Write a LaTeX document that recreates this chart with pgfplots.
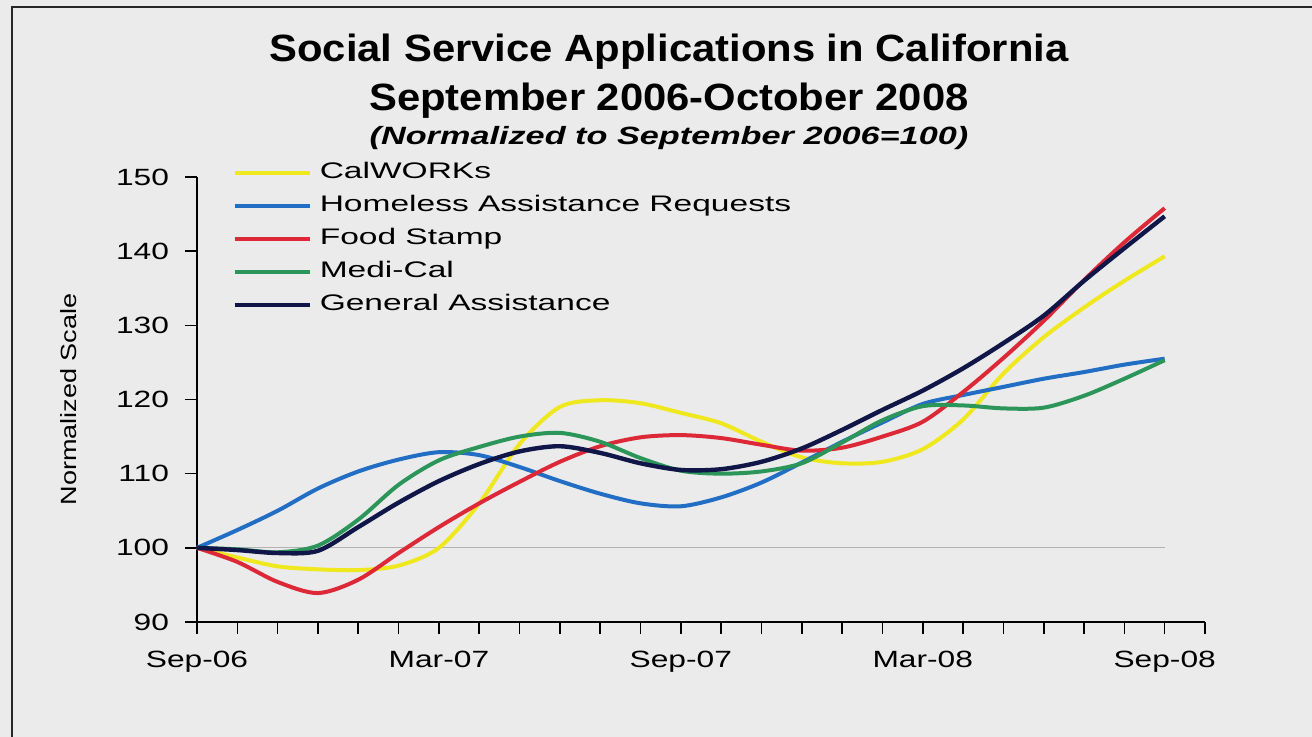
\documentclass[border=0pt]{standalone}
\usepackage{fontspec}
\setmainfont{Liberation Sans}
\usepackage{graphicx}
\usepackage{pgfplots}
\pgfplotsset{compat=1.18}

\definecolor{bgc}{RGB}{235,235,235}
\definecolor{cyel}{RGB}{240,232,30}
\definecolor{cblu}{RGB}{34,110,196}
\definecolor{cred}{RGB}{220,40,55}
\definecolor{cgrn}{RGB}{44,150,90}
\definecolor{cnav}{RGB}{16,22,72}

% the scanned chart has its text stretched sideways
\newcommand\sx[1]{\scalebox{1.35}[1]{#1}}
\newcommand\lx[1]{\scalebox{1.49}[1]{#1}}

% months since Sep-06 (0) to Sep-08 (24), normalized to Sep-06 = 100
\pgfplotstableread{
m   calworks homeless food  medical general
0   100.0    100.0    100.0 100.0   100.0
1   98.7     102.4    98.1  99.8    99.7
2   97.5     105.0    95.4  99.4    99.3
3   97.1     108.0    93.9  100.3   99.6
4   97.0     110.3    95.7  103.8   102.8
5   97.6     111.9    99.3  108.5   106.1
6   100.0    112.9    102.8 111.8   109.0
7   106.0    112.5    106.0 113.6   111.3
8   114.0    110.9    108.9 115.0   113.0
9   119.0    109.0    111.6 115.5   113.7
10  119.9    107.3    113.7 114.3   112.8
11  119.5    106.0    114.9 112.1   111.4
12  118.2    105.6    115.2 110.4   110.5
13  116.8    106.8    114.8 110.0   110.6
14  114.3    108.8    113.9 110.3   111.6
15  112.2    111.5    113.1 111.4   113.4
16  111.4    114.3    113.5 114.2   115.9
17  111.6    116.9    115.0 117.2   118.6
18  113.3    119.4    117.0 119.1   121.2
19  117.3    120.6    121.0 119.2   124.2
20  123.5    121.7    125.6 118.8   127.6
21  128.4    122.8    130.6 118.9   131.3
22  132.4    123.7    136.1 120.5   136.0
23  136.0    124.7    141.2 122.8   140.4
24  139.3    125.5    145.8 125.3   144.7
}\apps

\begin{document}
\begin{tikzpicture}
\fill[bgc] (0,0) rectangle (656bp,368.5bp);
\path[use as bounding box] (0,0) rectangle (656bp,368.5bp);
\draw[line width=1bp, black!85] (6bp,0) -- (6bp,365bp) -- (656bp,365bp);

\begin{axis}[
  at={(98.5bp,57.5bp)}, anchor=south west,
  scale only axis, width=504bp, height=222.5bp,
  xmin=0, xmax=25, ymin=90, ymax=150,
  clip=false,
  axis x line*=bottom, axis y line*=left,
  axis line style={line width=1bp, black},
  xtick={0,6,12,18,24},
  xticklabels={\sx{Sep-06},\sx{Mar-07},\sx{Sep-07},\sx{Mar-08},\sx{Sep-08}},
  minor xtick={1,...,25},
  ytick={90,100,...,150},
  yticklabels={\sx{90},\sx{100},\sx{110},\sx{120},\sx{130},\sx{140},\sx{150}},
  tick align=outside,
  major tick length=6bp, minor tick length=6bp,
  every tick/.style={line width=0.8bp, black},
  minor tick style={line width=0.8bp, black},
  ticklabel style={font=\fontsize{11.75bp}{13bp}\selectfont},
  yticklabel style={xshift=-4.5bp},
  xticklabel style={yshift=-5bp},
  ylabel={\scalebox{1.23}[1]{Normalized Scale}},
  ylabel style={font=\fontsize{11bp}{13bp}\selectfont,
    at={(axis description cs:-0.127,0.5)}, anchor=center},
  legend cell align=left,
  legend image code/.code={\draw[#1] (0bp,0bp) -- (37.5bp,0bp);},
  legend style={draw=none, fill=none, inner sep=0pt,
    at={(axis description cs:0.0347,1.034)}, anchor=north west,
    font=\fontsize{11.25bp}{12bp}\selectfont,
    row sep=6bp, column sep=4bp,
    nodes={inner sep=0pt, text height=8bp, text depth=2.5bp}},
  every axis plot/.append style={smooth, line width=2bp, no markers},
]
\addplot[gray!60, line width=0.5bp, forget plot, smooth=false] coordinates {(0,100) (24,100)};
\addplot[cyel] table[x=m, y=calworks] {\apps};
\addlegendentry{\lx{CalWORKs}}
\addplot[cblu] table[x=m, y=homeless] {\apps};
\addlegendentry{\lx{Homeless Assistance Requests}}
\addplot[cred] table[x=m, y=food] {\apps};
\addlegendentry{\lx{Food Stamp}}
\addplot[cgrn] table[x=m, y=medical] {\apps};
\addlegendentry{\lx{Medi-Cal}}
\addplot[cnav, line width=2.2bp] table[x=m, y=general] {\apps};
\addlegendentry{\lx{General Assistance}}
\end{axis}

\node[anchor=base, font=\fontsize{19bp}{22bp}\selectfont\bfseries] at (334.5bp,337.5bp)
  {\scalebox{1.1}[1]{Social Service Applications in California}};
\node[anchor=base, font=\fontsize{19bp}{22bp}\selectfont\bfseries] at (334.5bp,313bp)
  {\scalebox{1.1}[1]{September 2006-October 2008}};
\node[anchor=base, font=\fontsize{12.5bp}{14bp}\selectfont\bfseries\itshape] at (334.5bp,296bp)
  {\scalebox{1.37}[1]{(Normalized to September 2006=100)}};
\end{tikzpicture}
\end{document}
